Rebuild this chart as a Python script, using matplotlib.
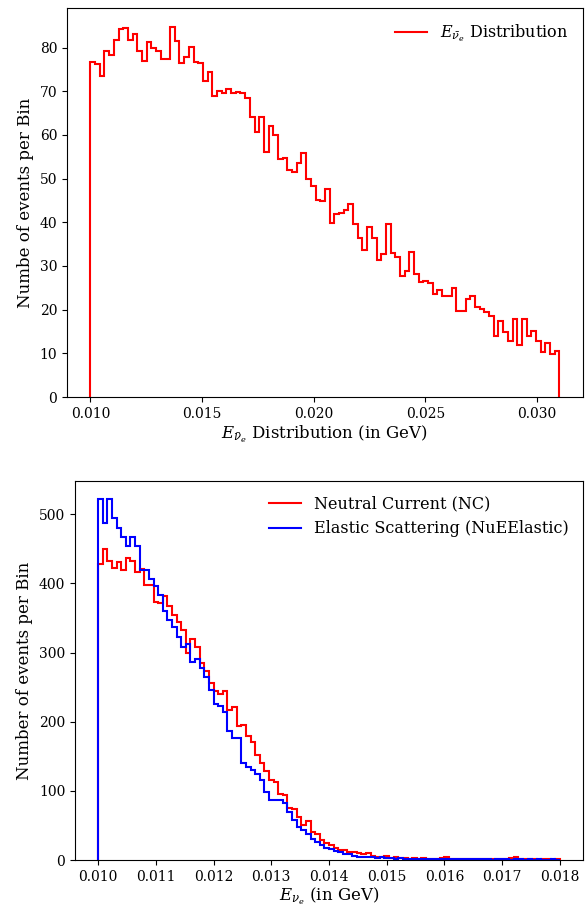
import numpy as np
import matplotlib
matplotlib.use('Agg')
from matplotlib import pyplot as plt

plt.rcParams.update({'font.family': 'serif', 'mathtext.fontset': 'dejavuserif', 'font.size': 10})

# anti-neutrino energy spectrum, 100 bins between 0.010 and 0.031 GeV
anu_range = (0.010, 0.031)
anu_counts = [76.7, 76.2, 73.5, 79.2, 78.4, 81.8, 84.2, 84.4, 81.8, 83.1,
              79.3, 76.9, 81.3, 79.8, 79.2, 77.3, 77.3, 84.8, 81.4, 76.5,
              77.8, 80.2, 76.7, 76.4, 72.3, 74.3, 69.0, 70.0, 69.5, 70.4,
              69.5, 69.9, 69.5, 68.5, 64.0, 60.6, 64.0, 56.2, 62.1, 60.0,
              54.5, 54.7, 52.0, 51.5, 53.6, 55.9, 50.0, 48.3, 45.1, 44.8,
              47.7, 39.8, 41.8, 42.1, 42.8, 44.1, 39.6, 36.4, 33.6, 39.0,
              36.4, 31.3, 32.7, 39.5, 32.9, 32.1, 27.6, 28.8, 33.1, 28.2,
              26.3, 26.5, 26.0, 23.5, 24.6, 23.1, 23.1, 24.9, 19.8, 19.8,
              22.5, 23.2, 20.6, 20.1, 19.5, 18.5, 14.0, 17.5, 14.9, 12.8,
              17.9, 12.0, 17.9, 13.9, 15.2, 12.9, 10.2, 12.3, 9.9, 10.6]

# neutrino energy, 100 bins between 0.010 and 0.018 GeV
nu_range = (0.010, 0.018)
nc_counts = [428, 450, 432, 423, 431, 420, 437, 433, 417, 421,
             397, 397, 373, 372, 382, 367, 355, 344, 332, 299,
             319, 308, 285, 273, 256, 245, 240, 244, 217, 222,
             194, 195, 179, 170, 152, 140, 129, 116, 113, 96,
             94, 75, 74, 62, 51, 57, 41, 37, 29, 25,
             21, 18, 15, 14, 12, 11, 10, 8, 10, 6,
             5, 4, 6, 3, 4, 3, 3, 2, 3, 2,
             3, 2, 2, 2, 3, 4, 2, 2, 1, 2,
             2, 1, 1, 2, 1, 1, 1, 2, 1, 3,
             4, 1, 1, 1, 1, 0, 1, 1, 0, 1]
es_counts = [522, 488, 522, 495, 480, 467, 454, 467, 454, 420,
             419, 406, 396, 383, 360, 347, 337, 322, 308, 313,
             287, 291, 277, 264, 246, 226, 223, 214, 186, 177,
             176, 140, 134, 130, 124, 115, 99, 87, 87, 87,
             82, 70, 58, 48, 44, 38, 30, 26, 22, 18,
             16, 13, 11, 9, 8, 6, 5, 5, 4, 4,
             3, 4, 3, 3, 2, 3, 2, 2, 2, 1,
             2, 2, 1, 2, 1, 1, 2, 1, 1, 1,
             1, 1, 2, 1, 1, 0, 1, 1, 1, 0,
             1, 1, 0, 1, 0, 1, 0, 0, 1, 0]

fig = plt.figure(figsize=(5.87, 9.05), dpi=100)
ax1 = fig.add_axes([0.114, 0.5613, 0.879, 0.4298])
ax2 = fig.add_axes([0.1278, 0.0497, 0.8654, 0.4188])

edges = np.linspace(anu_range[0], anu_range[1], len(anu_counts) + 1)
ax1.stairs(anu_counts, edges, color='red', linewidth=1.5,
           label=r'$E_{\bar{\nu}_e}$ Distribution')
ax1.set_xlabel(r'$E_{\bar{\nu}_e}$ Distribution (in GeV)', fontsize=12, labelpad=2)
ax1.set_ylabel('Numbe of events per Bin', fontsize=12)
ax1.set_xticks([0.010, 0.015, 0.020, 0.025, 0.030])
ax1.legend(loc='upper right', frameon=False, fontsize=11.5)

edges = np.linspace(nu_range[0], nu_range[1], len(nc_counts) + 1)
ax2.stairs(nc_counts, edges, color='red', linewidth=1.5, label='Neutral Current (NC)')
ax2.stairs(es_counts, edges, color='blue', linewidth=1.5,
           label='Elastic Scattering (NuEElastic)')
ax2.set_xlabel(r'$E_{\nu_e}$ (in GeV)', fontsize=12, labelpad=1)
ax2.set_ylabel('Number of events per Bin', fontsize=12)
ax2.set_xticks(np.arange(0.010, 0.0181, 0.001))
ax2.legend(loc='upper right', frameon=False, fontsize=11.5)

fig.savefig('out.png', dpi=100)
